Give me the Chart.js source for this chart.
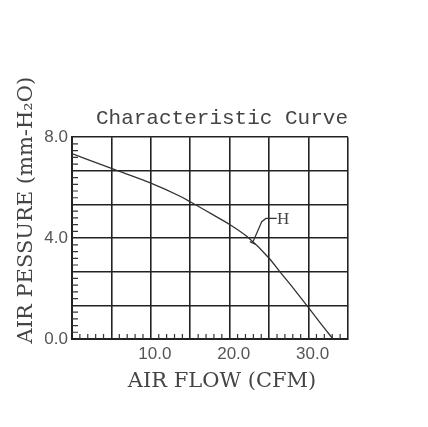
<!DOCTYPE html>
<html>
<head>
<meta charset="utf-8">
<script src="https://cdn.jsdelivr.net/npm/chart.js@4"></script>
<style>
html, body { margin: 0; padding: 0; background: #fff; }
#wrap { width: 428px; height: 427px; }
</style>
</head>
<body>
<div id="wrap"><canvas id="Chart"></canvas></div>
<script>
// fan P-Q curve
const flow     = [0, 5, 10, 13.7, 15.1, 17.9, 20.1, 22.2, 25, 26.4, 28.1, 29.8, 31.5, 33.1];      // CFM
const pressure = [7.35, 6.76, 6.18, 5.66, 5.42, 4.92, 4.52, 4.06, 3.20, 2.65, 2.00, 1.32, 0.63, 0]; // mm-H2O

// callout "H" and its leader line
const leaderFlow     = [22.9, 24.06, 24.6, 25.96];
const leaderPressure = [3.82, 4.65, 4.78, 4.78];
const leaderTickFlow     = [22.55, 23.25];
const leaderTickPressure = [3.86, 3.76];
const calloutText = 'H';
const calloutFlow = 26.0;
const calloutPressure = 4.72;

// axes
const xTickValues = [10, 20, 30];
const xTickLabels = ['10.0', '20.0', '30.0'];
const yGrid = [0, 4 / 3, 8 / 3, 4, 16 / 3, 20 / 3, 8];
const yTickValues = [0, 4, 8];
const yTickLabels = ['0.0', '4.0', '8.0'];

const chartTitle = 'Characteristic Curve';
const xTitle = 'AIR FLOW (CFM)';
const yTitle = 'AIR PESSURE (mm-H\u2082O)';

Chart.defaults.font.family = 'Liberation Sans';
Chart.defaults.color = '#555';

function pickLabel(values, labels, v) {
    const i = values.findIndex(t => Math.abs(t - v) < 1e-6);
    return i < 0 ? '' : labels[i];
}

function toPoints(xs, ys) {
    return xs.map((x, i) => ({ x: x, y: ys[i] }));
}

// small inward ticks along the left and bottom edges
const minorTicks = {
    id: 'minorTicks',
    afterDatasetsDraw(chart) {
        const ctx = chart.ctx;
        const xs = chart.scales.x, ys = chart.scales.y;
        const a = chart.chartArea;
        ctx.save();
        ctx.strokeStyle = '#333';
        ctx.lineWidth = 1.2;
        ctx.beginPath();
        for (let i = 1; i < 35; i++) {
            if (i % 5 == 0) continue;
            const px = xs.getPixelForValue(i);
            ctx.moveTo(px, a.bottom);
            ctx.lineTo(px, a.bottom - 5);
        }
        for (let i = 1; i < 30; i++) {
            if (i % 5 == 0) continue;
            const py = ys.getPixelForValue(i * 4 / 15);
            ctx.moveTo(a.left, py);
            ctx.lineTo(a.left + 6, py);
        }
        ctx.stroke();
        ctx.restore();
    }
};

// callout label and the two axis titles
const extraText = {
    id: 'extraText',
    afterDraw(chart) {
        const ctx = chart.ctx;
        const xs = chart.scales.x, ys = chart.scales.y;
        const a = chart.chartArea;
        ctx.save();
        ctx.fillStyle = '#444';
        ctx.textBaseline = 'middle';

        ctx.font = '17px "Liberation Serif"';
        ctx.textAlign = 'left';
        ctx.fillText(calloutText, xs.getPixelForValue(calloutFlow), ys.getPixelForValue(calloutPressure));

        ctx.font = '21px "DejaVu Serif"';
        ctx.textAlign = 'center';
        ctx.fillText(xTitle, (a.left + a.right) / 2 + 12, a.bottom + 43);

        ctx.translate(a.left - 45, a.top + 73);
        ctx.rotate(-Math.PI / 2);
        ctx.fillText(yTitle, 0, 0);
        ctx.restore();
    }
};

const gridStyle = { color: '#222', lineWidth: 1.6, drawTicks: false };
const lineStyle = { showLine: true, borderColor: '#333', pointRadius: 0 };

new Chart('Chart', {
    type: 'scatter',
    data: {
        datasets: [
            Object.assign({ data: toPoints(flow, pressure), borderWidth: 1.3, cubicInterpolationMode: 'monotone' }, lineStyle),
            Object.assign({ data: toPoints(leaderFlow, leaderPressure), borderWidth: 1.2 }, lineStyle),
            Object.assign({ data: toPoints(leaderTickFlow, leaderTickPressure), borderWidth: 1.4 }, lineStyle)
        ]
    },
    options: {
        responsive: true,
        maintainAspectRatio: false,
        animation: false,
        layout: { padding: { left: 32, right: 80, top: 100, bottom: 58 } },
        plugins: {
            legend: { display: false },
            tooltip: { enabled: false },
            title: {
                display: true,
                text: chartTitle,
                align: 'end',
                color: '#444',
                font: { family: 'Liberation Mono', size: 21, weight: 'normal' },
                padding: { top: 6, bottom: 6 }
            }
        },
        scales: {
            x: {
                type: 'linear',
                min: 0,
                max: 35,
                grid: gridStyle,
                border: { color: '#222', width: 2 },
                ticks: {
                    stepSize: 5,
                    padding: 5,
                    labelOffset: 4,
                    maxRotation: 0,
                    font: { size: 17 },
                    callback: v => pickLabel(xTickValues, xTickLabels, v)
                },
                afterFit: s => { s.height = 30; }
            },
            y: {
                type: 'linear',
                min: 0,
                max: 8,
                grid: gridStyle,
                border: { color: '#222', width: 2 },
                ticks: {
                    padding: 4,
                    font: { size: 17 },
                    callback: v => pickLabel(yTickValues, yTickLabels, v)
                },
                afterBuildTicks: s => { s.ticks = yGrid.map(v => ({ value: v })); },
                afterFit: s => { s.width = 40; }
            }
        }
    },
    plugins: [minorTicks, extraText]
});
</script>
</body>
</html>
